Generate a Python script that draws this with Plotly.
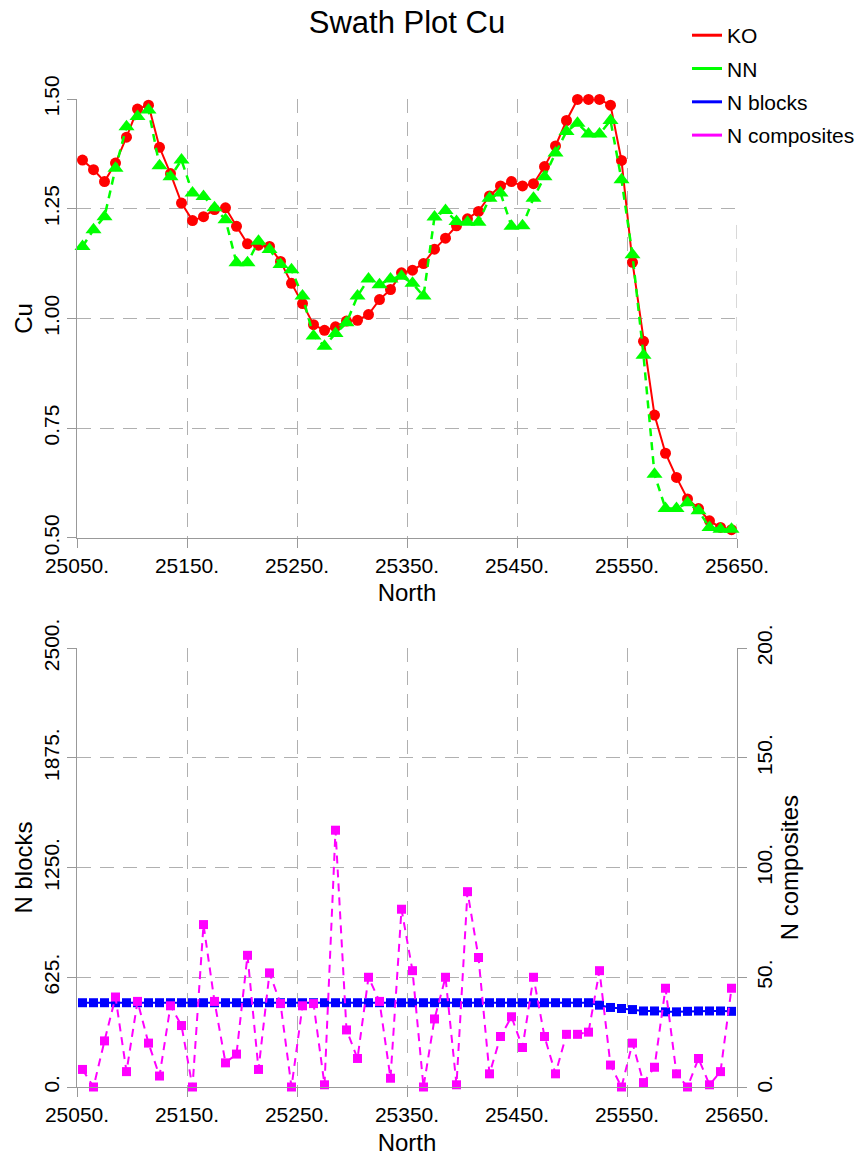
import plotly.graph_objects as go

north = [25055, 25065, 25075, 25085, 25095, 25105, 25115, 25125, 25135, 25145,
         25155, 25165, 25175, 25185, 25195, 25205, 25215, 25225, 25235, 25245,
         25255, 25265, 25275, 25285, 25295, 25305, 25315, 25325, 25335, 25345,
         25355, 25365, 25375, 25385, 25395, 25405, 25415, 25425, 25435, 25445,
         25455, 25465, 25475, 25485, 25495, 25505, 25515, 25525, 25535, 25545,
         25555, 25565, 25575, 25585, 25595, 25605, 25615, 25625, 25635, 25645]

ko = [1.361, 1.339, 1.312, 1.354, 1.413, 1.477, 1.486, 1.390, 1.330, 1.263,
      1.223, 1.232, 1.248, 1.252, 1.210, 1.170, 1.167, 1.164, 1.130, 1.080,
      1.034, 0.986, 0.973, 0.981, 0.994, 0.996, 1.009, 1.043, 1.066, 1.104,
      1.110, 1.125, 1.158, 1.183, 1.211, 1.227, 1.244, 1.279, 1.302, 1.312,
      1.302, 1.307, 1.346, 1.393, 1.451, 1.499, 1.499, 1.499, 1.486, 1.360,
      1.128, 0.948, 0.780, 0.693, 0.638, 0.589, 0.567, 0.539, 0.524, 0.519]

nn = [1.164, 1.202, 1.232, 1.342, 1.437, 1.460, 1.475, 1.348, 1.323, 1.361,
      1.286, 1.278, 1.252, 1.225, 1.127, 1.127, 1.176, 1.157, 1.123, 1.111,
      1.051, 0.960, 0.937, 0.966, 0.990, 1.051, 1.090, 1.077, 1.090, 1.096,
      1.080, 1.051, 1.231, 1.246, 1.221, 1.219, 1.219, 1.274, 1.286, 1.210,
      1.211, 1.274, 1.323, 1.377, 1.426, 1.445, 1.420, 1.420, 1.451, 1.316,
      1.145, 0.916, 0.645, 0.567, 0.567, 0.580, 0.562, 0.524, 0.520, 0.520]

n_blocks = [480, 480, 480, 480, 480, 480, 480, 480, 480, 480,
            480, 480, 480, 480, 480, 480, 480, 480, 480, 480,
            480, 480, 480, 480, 480, 480, 480, 480, 480, 480,
            480, 480, 480, 480, 480, 480, 480, 480, 480, 480,
            480, 480, 480, 480, 480, 480, 480, 466, 453, 447,
            441, 433, 433, 428, 428, 431, 433, 433, 433, 431]

n_comp = [8, 0, 21, 41, 7, 39, 20, 5, 37, 28,
          0, 74, 39, 11, 15, 60, 8, 52, 38, 0,
          37, 38, 1, 117, 26, 13, 50, 39, 4, 81,
          53, 0, 31, 50, 1, 89, 59, 6, 23, 32,
          18, 50, 23, 6, 24, 24, 25, 53, 10, 0,
          20, 2, 9, 45, 6, 0, 13, 1, 7, 45]

x_tickvals = [25050, 25150, 25250, 25350, 25450, 25550, 25650]
x_ticktext = ["25050.", "25150.", "25250.", "25350.", "25450.", "25550.", "25650."]
cu_tickvals = [0.5, 0.75, 1.0, 1.25, 1.5]
cu_ticktext = ["0.50", "0.75", "1.00", "1.25", "1.50"]
nb_tickvals = [0, 625, 1250, 1875, 2500]
nb_ticktext = ["0.", "625.", "1250.", "1875.", "2500."]
nc_tickvals = [0, 50, 100, 150, 200]
nc_ticktext = ["0.", "50.", "100.", "150.", "200."]

FONT = "Liberation Sans, Arial, sans-serif"
RED = "#ff0000"
GREEN = "#00ff00"
BLUE = "#0000ff"
MAGENTA = "#ff00ff"
GRID = "#b0b0b0"

fig = go.Figure()

fig.add_trace(go.Scatter(x=north, y=ko, mode="lines+markers", name="KO",
                         line=dict(color=RED, width=2),
                         marker=dict(symbol="circle", size=11, color=RED),
                         cliponaxis=False, showlegend=False,
                         xaxis="x", yaxis="y"))
fig.add_trace(go.Scatter(x=north, y=nn, mode="lines+markers", name="NN",
                         line=dict(color=GREEN, width=2.5, dash="8px,6px"),
                         marker=dict(symbol="triangle-up", size=14, color=GREEN),
                         cliponaxis=False, showlegend=False,
                         xaxis="x", yaxis="y"))
fig.add_trace(go.Scatter(x=north, y=n_blocks, mode="lines+markers", name="N blocks",
                         line=dict(color=BLUE, width=2),
                         marker=dict(symbol="square", size=9, color=BLUE),
                         cliponaxis=False, showlegend=False,
                         xaxis="x2", yaxis="y2"))
fig.add_trace(go.Scatter(x=north, y=n_comp, mode="lines+markers", name="N composites",
                         line=dict(color=MAGENTA, width=2, dash="8px,6px"),
                         marker=dict(symbol="square", size=9, color=MAGENTA),
                         cliponaxis=False, showlegend=False,
                         xaxis="x2", yaxis="y3"))

# legend entries (lines only)
for nm, col in [("KO", RED), ("NN", GREEN), ("N blocks", BLUE), ("N composites", MAGENTA)]:
    fig.add_trace(go.Scatter(x=[None], y=[None], mode="lines", name=nm,
                             line=dict(color=col, width=3), legendgroup=nm,
                             xaxis="x", yaxis="y"))

axis_common = dict(showline=True, linecolor="#999999", linewidth=1,
                   ticks="outside", ticklen=9, tickcolor="#999999",
                   showgrid=True, gridcolor=GRID, griddash="14px,9px", gridwidth=1,
                   zeroline=False, automargin=False,
                   tickfont=dict(size=21, color="black", family=FONT),
                   title_font=dict(size=24, color="black", family=FONT))

fig.update_layout(
    width=862, height=1159,
    margin=dict(l=77, r=125, t=99, b=72, autoexpand=False),
    paper_bgcolor="white", plot_bgcolor="white",
    font=dict(family=FONT, color="black"),
    title=dict(text="Swath Plot Cu", x=0.5, xref="paper", xanchor="center",
               y=1 - 22 / 1159, yref="container", yanchor="middle",
               font=dict(size=31, color="black", family=FONT)),
    legend=dict(x=0.797, y=0.987, xanchor="left", yanchor="top",
                xref="container", yref="container",
                font=dict(size=21, color="black", family=FONT),
                bgcolor="rgba(255,255,255,0)", traceorder="grouped",
                tracegroupgap=3, itemwidth=30),
    xaxis=dict(domain=[0, 1], range=[25050, 25650], anchor="y",
               tickvals=x_tickvals, ticktext=x_ticktext,
               title=dict(text="North", standoff=8), **axis_common),
    yaxis=dict(domain=[0.5557, 1], range=[0.5, 1.5], anchor="x",
               tickvals=cu_tickvals, ticktext=cu_ticktext, tickangle=-90,
               title=dict(text="Cu", standoff=0), **axis_common),
    xaxis2=dict(domain=[0, 1], range=[25050, 25650], anchor="y2",
                tickvals=x_tickvals, ticktext=x_ticktext,
                title=dict(text="North", standoff=8), **axis_common),
    yaxis2=dict(domain=[0, 0.4443], range=[0, 2500], anchor="x2",
                tickvals=nb_tickvals, ticktext=nb_ticktext, tickangle=-90,
                title=dict(text="N blocks", standoff=0), **axis_common),
    yaxis3=dict(range=[0, 200], anchor="x2", overlaying="y2", side="right",
                tickvals=nc_tickvals, ticktext=nc_ticktext, tickangle=-90,
                **{**axis_common, "showgrid": False}),
)

# right-axis title, placed beside the secondary tick labels
fig.add_annotation(text="N composites", xref="paper", yref="paper",
                   x=1.080, y=0.2222, xanchor="center", yanchor="middle",
                   textangle=-90, showarrow=False,
                   font=dict(size=24, color="black", family=FONT))

# grid line at the right edge of the upper panel (visible below the legend area)
fig.add_shape(type="line", xref="x", yref="y",
              x0=x_tickvals[-1], x1=x_tickvals[-1], y0=cu_tickvals[0], y1=1.22,
              line=dict(color=GRID, width=1, dash="14px,9px"), layer="below")

fig.write_html("out.html")
